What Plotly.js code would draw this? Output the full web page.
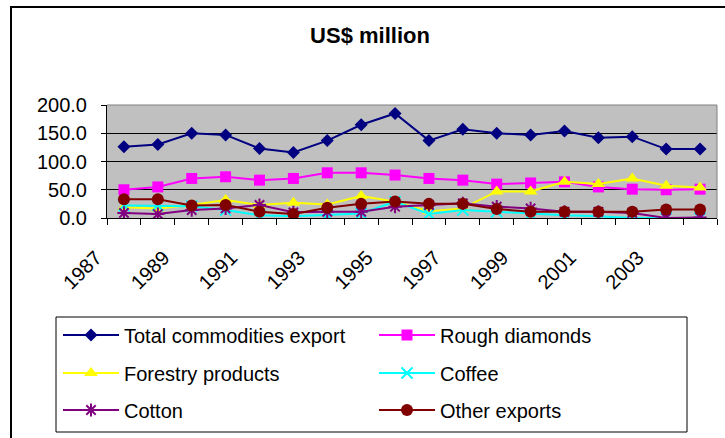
<!DOCTYPE html>
<html>
<head>
<meta charset="utf-8">
<script src="https://cdn.plot.ly/plotly-3.0.1.min.js"></script>
<style>html,body{margin:0;padding:0;background:#fff}#chart{width:725px;height:438px}</style>
</head>
<body>
<div id="chart"></div>
<script>
// Data (US$ million), 1987-2004
var years = [1987,1988,1989,1990,1991,1992,1993,1994,1995,1996,1997,1998,1999,2000,2001,2002,2003,2004];
var totalCommodities = [126,130,150,147,123,116,137,165,185,137,157,150,147,154,142,144,122,122];
var roughDiamonds   = [50,55,70,73,67,70,80,80,76,70,67,60,62,64,55,51,50,51];
var forestry        = [19,17,23,32,23,27,24,39,29,12,17,47,47,64,60,70,57,54];
var coffee          = [22,22,21,14,5,3,5,8,29,7,14,11,7,5,3,0,0,0];
var cotton          = [9,7,14,17,23,10,11,11,20,23,26,20,17,11,11,9,0,1];
var otherExports    = [33,33,22,23,11,7,18,25,29,25,25,16,11,11,11,11,15,15];

var seriesNames = ['Total commodities export','Rough diamonds','Forestry products','Coffee','Cotton','Other exports'];

var FONT = '"Liberation Sans", Arial, Helvetica, sans-serif';

function tr(name, y, color, symbol, size, legend, opts) {
  var m = {symbol: symbol, size: size, color: color, line: {color: color, width: (opts && opts.mlw) || 0}};
  return {type: 'scatter', mode: 'lines+markers', name: name, x: years, y: y,
          line: {color: color, width: 2}, marker: m, legend: legend};
}

var traces = [
  tr(seriesNames[0], totalCommodities, '#000080', 'diamond', 10, 'legend'),
  tr(seriesNames[1], roughDiamonds, '#FF00FF', 'square', 11, 'legend'),
  tr(seriesNames[2], forestry, '#FFFF00', 'triangle-up', 12, 'legend2'),
  tr(seriesNames[3], coffee, '#00FFFF', 'x-thin-open', 11, 'legend2', {mlw: 2}),
  tr(seriesNames[4], cotton, '#800080', 'asterisk-open', 11, 'legend3', {mlw: 2}),
  tr(seriesNames[5], otherExports, '#800000', 'circle', 12, 'legend3')
];

// pixel -> paper helpers for layout decoration
var L = 107, R = 8, T = 105, B = 220, W = 725, H = 438;
var pw = W - L - R, ph = H - T - B;
function px(x){ return (x - L) / pw; }
function py(y){ return (H - B - y) / ph; }

function leg(yPix) {
  return {orientation: 'h', x: px(58), xanchor: 'left', y: py(yPix), yanchor: 'middle',
          entrywidth: 245, entrywidthmode: 'pixels', itemwidth: 56,
          bgcolor: 'rgba(0,0,0,0)', borderwidth: 0,
          font: {family: FONT, size: 20, color: '#000'}, traceorder: 'normal', itemclick: false};
}

var layout = {
  width: W, height: H,
  margin: {l: L, r: R, t: T, b: B, pad: 0},
  paper_bgcolor: '#fff', plot_bgcolor: '#C0C0C0',
  font: {family: FONT, size: 20, color: '#000'},
  title: {text: '<b>US$ million</b>', font: {family: FONT, size: 22, color: '#000'},
          x: 370 / W, xref: 'container', xanchor: 'center', y: 1 - 35 / H, yref: 'container', yanchor: 'middle'},
  showlegend: true,
  legend: leg(335), legend2: leg(373), legend3: leg(410),
  xaxis: {range: [1986.5, 2004.5], tickmode: 'linear', tick0: 1987, dtick: 2, ticks: '',
          tickangle: -45, showgrid: false, zeroline: false, showline: true, linecolor: '#000', linewidth: 1,
          tickfont: {family: FONT, size: 20, color: '#000'}, ticklabelstandoff: 19, ticklabelshift: -28,
          minor: {tick0: 1986.5, dtick: 1, ticks: 'outside', ticklen: 6, tickcolor: '#000', tickwidth: 1, showgrid: false}},
  yaxis: {range: [0, 200], tickmode: 'linear', tick0: 0, dtick: 50, tickformat: '.1f',
          ticks: 'outside', ticklen: 5, tickcolor: '#000', showline: true, linecolor: '#000', linewidth: 1,
          showgrid: true, gridcolor: '#000', gridwidth: 1, zeroline: false,
          tickfont: {family: FONT, size: 20, color: '#000'}, ticklabelstandoff: 10},
  shapes: [
    {type: 'path', xref: 'paper', yref: 'paper', path: 'M1,0 L1,1 L0,1', line: {color: '#808080', width: 1}, layer: 'above'},
    {type: 'rect', xref: 'paper', yref: 'paper', x0: px(56), x1: px(687), y0: py(317), y1: py(432),
     line: {color: '#000', width: 1}, fillcolor: 'rgba(0,0,0,0)'},
    {type: 'rect', xref: 'paper', yref: 'paper', x0: px(11), x1: px(760), y0: py(7), y1: py(470),
     line: {color: '#000', width: 2}, fillcolor: 'rgba(0,0,0,0)'}
  ]
};

Plotly.newPlot('chart', traces, layout, {staticPlot: true, displayModeBar: false});
</script>
</body>
</html>
